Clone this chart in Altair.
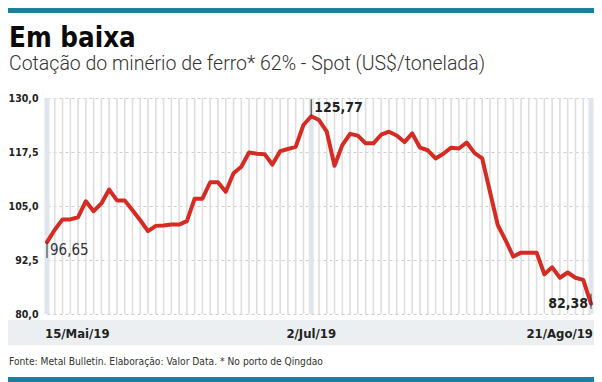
import altair as alt
import pandas as pd

# Trading days 15/Mai/19 .. 21/Ago/19
datas = [d.strftime("%d/%m/%Y") for d in pd.bdate_range("2019-05-15", "2019-08-21")]

valores = [
    96.65, 99.5, 101.9, 101.9, 102.4, 106.1, 103.8, 105.6, 108.8, 106.3,
    106.3, 104.0, 101.7, 99.2, 100.4, 100.5, 100.7, 100.7, 101.5, 106.7,
    106.7, 110.5, 110.5, 108.3, 112.6, 114.1, 117.4, 117.1, 117.0, 114.6,
    117.7, 118.2, 118.7, 123.75, 125.77, 124.9, 122.2, 114.3, 119.1, 121.7,
    121.3, 119.5, 119.5, 121.5, 122.2, 121.3, 119.8, 121.8, 118.5, 117.9,
    116.0, 117.1, 118.5, 118.3, 119.7, 117.3, 116.0, 108.3, 100.6, 97.1,
    93.3, 94.2, 94.2, 94.2, 89.2, 90.8, 88.4, 89.6, 88.4, 87.9,
    82.38,
]

rotulos_x = ["15/Mai/19", "2/Jul/19", "21/Ago/19"]
ticks_y = [80, 92.5, 105, 117.5, 130]

titulo = "Em baixa"
subtitulo = "Cotação do minério de ferro* 62% - Spot (US$/tonelada)"
fonte = "Fonte: Metal Bulletin. Elaboração: Valor Data. * No porto de Qingdao"

df = pd.DataFrame({"i": list(range(len(valores))), "data": datas, "valor": valores})
df["rotulo"] = df["valor"].map(lambda v: f"{v:.2f}".replace(".", ","))
i_max = int(df["valor"].idxmax())
i_last = len(df) - 1
destaques = df.loc[[0, i_max, i_last]].reset_index(drop=True)
destaques["xlab"] = rotulos_x

COND = "DejaVu Sans Condensed, DejaVu Sans, sans-serif"
NARROW = "Liberation Sans Narrow, DejaVu Sans Condensed, sans-serif"
TEAL = "#1b7f9e"
RED = "#d52b22"

xs = alt.Scale(domain=[0, len(valores) - 1], nice=False, zero=False)
ys = alt.Scale(domain=[80, 130], nice=False, zero=False)
X = alt.X("i:Q", scale=xs, axis=None)

base = alt.Chart(df)

one = alt.Chart(pd.DataFrame({"k": [0]}))

band = one.mark_rect(color="#eceff1").encode(
    x=alt.value(-39), x2=alt.value(547), y=alt.value(222), y2=alt.value(247)
)
topbar = one.mark_rect(color=TEAL).encode(
    x=alt.value(-39), x2=alt.value(547), y=alt.value(-90), y2=alt.value(-85)
)
botbar = one.mark_rect(color=TEAL).encode(
    x=alt.value(-39), x2=alt.value(547), y=alt.value(279), y2=alt.value(284)
)
t_title = one.mark_text(
    text=titulo, align="left", baseline="alphabetic", font=COND,
    fontSize=27.5, fontWeight="bold", color="#0a0a0a"
).encode(x=alt.value(-38), y=alt.value(-51))
t_sub = one.mark_text(
    text=subtitulo, align="left", baseline="alphabetic", font="Roboto",
    fontSize=19.5, fontWeight=300, color="#333"
).encode(x=alt.value(-38), y=alt.value(-28))
t_foot = one.mark_text(
    text=fonte, align="left", baseline="alphabetic", font=NARROW,
    fontSize=10.2, color="#333"
).encode(x=alt.value(-38), y=alt.value(267))

vgrid = base.mark_rule(color="#dedede", strokeWidth=1.6).encode(
    x=X, y=alt.value(0), y2=alt.value(216)
)
hl = alt.Chart(destaques).mark_rule(color="#dfe5ea", strokeWidth=5).encode(
    x=X, y=alt.value(0), y2=alt.value(216)
)

line = base.mark_line(color=RED, strokeWidth=4, strokeJoin="round", strokeCap="round").encode(
    x=X,
    y=alt.Y(
        "valor:Q", scale=ys,
        axis=alt.Axis(
            values=ticks_y, title=None, domain=False, ticks=False,
            labelExpr="replace(format(datum.value, '.1f'), '.', ',')",
            labelFont=NARROW, labelFontSize=10.5, labelFontWeight="bold",
            labelColor="#222", labelPadding=9,
            grid=True, gridColor="#cfcfcf", gridDash=[3, 3], gridWidth=1,
        ),
    ),
)

d0 = destaques.iloc[[0]]
dpk = destaques.iloc[[1]]
dl = destaques.iloc[[2]]

tick0 = alt.Chart(d0).mark_rule(color="#333", strokeWidth=1, y2Offset=16).encode(
    x=X, y=alt.Y("valor:Q", scale=ys), y2="valor:Q"
)
lab0 = alt.Chart(d0).mark_text(
    align="left", baseline="top", dx=3, dy=1, font=COND, fontSize=15, color="#333"
).encode(x=X, y=alt.Y("valor:Q", scale=ys), text="rotulo:N")

tickp = alt.Chart(dpk).mark_rule(color="#333", strokeWidth=1, yOffset=-17).encode(
    x=X, y=alt.Y("valor:Q", scale=ys), y2="valor:Q"
)
labp = alt.Chart(dpk).mark_text(
    align="left", baseline="alphabetic", dx=3, dy=-4, font=COND, fontSize=14,
    fontWeight="bold", color="#222"
).encode(x=X, y=alt.Y("valor:Q", scale=ys), text="rotulo:N")

tickl = alt.Chart(dl).mark_rule(color="#333", strokeWidth=1, yOffset=-10, y2Offset=5).encode(
    x=X, y=alt.Y("valor:Q", scale=ys), y2="valor:Q"
)
labl = alt.Chart(dl).mark_text(
    align="right", baseline="alphabetic", dx=-3, dy=4, font=COND, fontSize=14,
    fontWeight="bold", color="#222"
).encode(x=X, y=alt.Y("valor:Q", scale=ys), text="rotulo:N")

def xlabel(row, align, dx):
    return alt.Chart(destaques.iloc[[row]]).mark_text(
        align=align, baseline="alphabetic", dx=dx, font=NARROW, fontSize=13,
        fontWeight="bold", color="#222"
    ).encode(x=X, y=alt.value(240), text="xlab:N")

chart = alt.layer(
    topbar, band, botbar, t_title, t_sub, t_foot,
    vgrid, hl, line, tick0, lab0, tickp, labp, tickl, labl,
    xlabel(0, "left", -2), xlabel(1, "center", 0), xlabel(2, "right", 2),
).properties(
    width=544, height=216,
    padding={"left": 39, "top": 90, "right": 3, "bottom": 68},
    autosize=alt.AutoSizeParams(type="none"),
    background="white",
).configure_view(stroke=None)

chart.save("out.html", embed_options={"renderer": "svg", "actions": False})
